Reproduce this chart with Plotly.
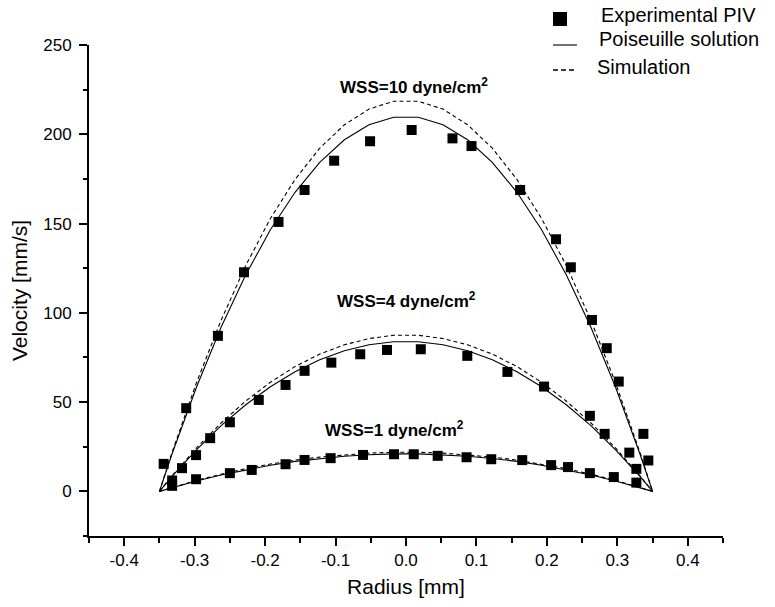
import plotly.graph_objects as go

# ---- data -------------------------------------------------------------
# radial positions where the model profiles are evaluated [mm]
r_model = [-0.35, -0.3325, -0.2975, -0.2625, -0.2275, -0.1925, -0.1575, -0.1225,
           -0.0875, -0.0525, -0.0175, 0.0175, 0.0525, 0.0875, 0.1225, 0.1575,
           0.1925, 0.2275, 0.2625, 0.2975, 0.3325, 0.35]

# Poiseuille solution [mm/s]
pois_10 = [0, 20.5, 58.3, 91.9, 121.3, 146.5, 167.5, 184.3, 196.9, 205.3, 209.5,
           209.5, 205.3, 196.9, 184.3, 167.5, 146.5, 121.3, 91.9, 58.3, 20.5, 0]
pois_4 = [0, 8.2, 23.3, 36.8, 48.5, 58.6, 67.0, 73.7, 78.8, 82.1, 83.8,
          83.8, 82.1, 78.8, 73.7, 67.0, 58.6, 48.5, 36.8, 23.3, 8.2, 0]
pois_1 = [0, 2.0, 5.8, 9.2, 12.1, 14.6, 16.8, 18.4, 19.7, 20.5, 21.0,
          21.0, 20.5, 19.7, 18.4, 16.8, 14.6, 12.1, 9.2, 5.8, 2.0, 0]

# Simulation [mm/s]
sim_10 = [0, 21.4, 60.8, 95.8, 126.5, 152.8, 174.7, 192.2, 205.3, 214.1, 218.5,
          218.5, 214.1, 205.3, 192.2, 174.7, 152.8, 126.5, 95.8, 60.8, 21.4, 0]
sim_4 = [0, 8.5, 24.3, 38.3, 50.6, 61.1, 69.9, 76.9, 82.1, 85.6, 87.4,
         87.4, 85.6, 82.1, 76.9, 69.9, 61.1, 50.6, 38.3, 24.3, 8.5, 0]
sim_1 = [0, 2.1, 6.1, 9.6, 12.7, 15.3, 17.5, 19.2, 20.5, 21.4, 21.9,
         21.9, 21.4, 20.5, 19.2, 17.5, 15.3, 12.7, 9.6, 6.1, 2.1, 0]

# Experimental PIV measurements
piv10_r = [-0.344, -0.312, -0.267, -0.230, -0.181, -0.144, -0.102, -0.051, 0.008,
           0.066, 0.093, 0.162, 0.213, 0.234, 0.264, 0.285, 0.302, 0.337, 0.344]
piv10_v = [15.4, 46.6, 87.1, 122.7, 150.9, 168.8, 185.2, 196.1, 202.4,
           197.7, 193.4, 168.8, 141.2, 125.5, 96.0, 80.2, 61.5, 32.2, 17.3]

piv4_r = [-0.332, -0.318, -0.298, -0.278, -0.250, -0.209, -0.171, -0.144, -0.106,
          -0.065, -0.027, 0.021, 0.087, 0.144, 0.196, 0.261, 0.282, 0.317, 0.327]
piv4_v = [6.1, 13.0, 20.3, 29.8, 38.7, 51.2, 59.6, 67.5, 72.1,
          76.8, 79.2, 79.6, 75.9, 66.9, 58.7, 42.3, 32.2, 21.7, 12.6]

piv1_r = [-0.332, -0.298, -0.250, -0.219, -0.171, -0.144, -0.107, -0.061, -0.017,
          0.011, 0.045, 0.086, 0.121, 0.165, 0.206, 0.230, 0.261, 0.295, 0.327]
piv1_v = [3.1, 6.8, 10.2, 12.0, 15.2, 17.6, 18.6, 20.4, 20.8,
          20.8, 19.9, 19.1, 18.0, 17.5, 14.7, 13.6, 10.2, 8.0, 4.9]

x_tickvals = [-0.4, -0.3, -0.2, -0.1, 0.0, 0.1, 0.2, 0.3, 0.4]
x_ticktext = ["-0.4", "-0.3", "-0.2", "-0.1", "0.0", "0.1", "0.2", "0.3", "0.4"]

wss_labels = ["WSS=10 dyne/cm<sup>2</sup>", "WSS=4 dyne/cm<sup>2</sup>",
              "WSS=1 dyne/cm<sup>2</sup>"]
legend_names = ["Experimental PIV", "Poiseuille solution", "Simulation"]

# ---- figure -----------------------------------------------------------
FONT = "Liberation Sans, Arial, sans-serif"
W, H = 775, 607
ML, MR, MT, MB = 89, 52, 45, 71
PW, PH = W - ML - MR, H - MT - MB

fig = go.Figure()

for sim in (sim_10, sim_4, sim_1):
    fig.add_trace(go.Scatter(x=r_model, y=sim, mode="lines",
                             line=dict(color="black", width=1.1, dash="4px,3px"),
                             showlegend=False, hoverinfo="skip"))
for pois in (pois_10, pois_4, pois_1):
    fig.add_trace(go.Scatter(x=r_model, y=pois, mode="lines",
                             line=dict(color="black", width=1.1),
                             showlegend=False, hoverinfo="skip"))
for r, v in ((piv10_r, piv10_v), (piv4_r, piv4_v), (piv1_r, piv1_v)):
    fig.add_trace(go.Scatter(x=r, y=v, mode="markers",
                             marker=dict(symbol="square", size=10, color="black",
                                         line=dict(width=0)),
                             showlegend=False))

# curve labels
for txt, (lx, ly) in zip(wss_labels, [(0.012, 227), (0.0, 107), (-0.017, 35)]):
    fig.add_annotation(x=lx, y=ly, text=f"<b>{txt}</b>", showarrow=False,
                       xanchor="center", yanchor="middle",
                       font=dict(family=FONT, size=17, color="black"))


# key drawn above the plotting area (pixel positions -> paper coords)
def px(x):
    return (x - ML) / PW


def py(y):
    return (H - MB - y) / PH


fig.add_shape(type="rect", xref="paper", yref="paper",
              x0=px(553), x1=px(567), y0=py(26), y1=py(12),
              fillcolor="black", line=dict(width=0))
fig.add_shape(type="line", xref="paper", yref="paper",
              x0=px(553), x1=px(577), y0=py(45), y1=py(45),
              line=dict(color="black", width=1.1))
fig.add_shape(type="line", xref="paper", yref="paper",
              x0=px(553), x1=px(574), y0=py(70), y1=py(70),
              line=dict(color="black", width=1.3, dash="5px,3px"))
for name, (tx, ty) in zip(legend_names, [(599, 15), (597, 39), (595, 67)]):
    fig.add_annotation(x=px(tx), y=py(ty), xref="paper", yref="paper",
                       text=name, showarrow=False, xanchor="left",
                       yanchor="middle",
                       font=dict(family=FONT, size=20, color="black"))

axis_common = dict(
    showline=True, linecolor="black", linewidth=2,
    ticks="outside", ticklen=8, tickwidth=1.5, tickcolor="black",
    showgrid=False, zeroline=False,
    tickfont=dict(family=FONT, size=17, color="black"),
)

fig.update_xaxes(
    range=[-0.45, 0.45], tickmode="array", tickvals=x_tickvals, ticktext=x_ticktext,
    minor=dict(dtick=0.05, tick0=0, ticks="outside", ticklen=4.5, tickwidth=1.5,
               tickcolor="black", showgrid=False),
    title=dict(text="Radius [mm]", font=dict(family=FONT, size=21, color="black"),
               standoff=10),
    **axis_common,
)
fig.update_yaxes(
    range=[-25, 250], dtick=50, tick0=0,
    minor=dict(dtick=25, tick0=0, ticks="outside", ticklen=4.5, tickwidth=1.5,
               tickcolor="black", showgrid=False),
    title=dict(text="Velocity [mm/s]", font=dict(family=FONT, size=21, color="black"),
               standoff=10),
    ticklabelstandoff=4,
    **axis_common,
)

fig.update_layout(
    width=W, height=H,
    margin=dict(l=ML, r=MR, t=MT, b=MB, autoexpand=False),
    paper_bgcolor="white", plot_bgcolor="white",
    showlegend=False,
    font=dict(family=FONT, color="black"),
)

fig.write_html("out.html")
